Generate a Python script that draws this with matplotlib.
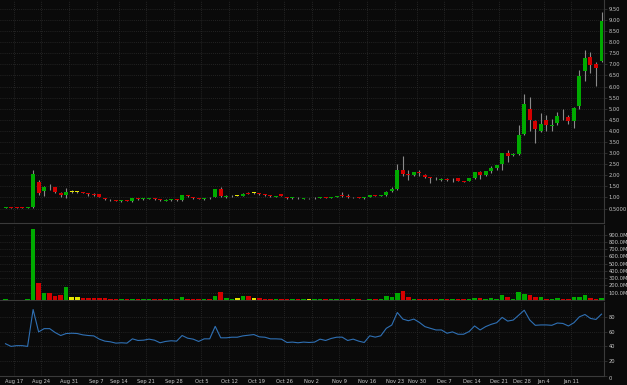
import numpy as np
import pandas as pd
import matplotlib
matplotlib.use("Agg")
import matplotlib.pyplot as plt

# ---------------- data ----------------
holidays = ["2020-09-07", "2020-11-26", "2020-12-25", "2021-01-01", "2021-01-18"]
dates = [d for d in pd.bdate_range("2020-08-13", "2021-01-19") if d.strftime("%Y-%m-%d") not in holidays]

opens = [0.54, 0.55, 0.545, 0.545, 0.54, 0.55, 1.70, 1.29, 1.48, 1.45,
         1.22, 1.09, 1.24, 1.24, 1.23, 1.19, 1.16, 1.14, 0.96, 0.90,
         0.88, 0.85, 0.87, 0.83, 0.95, 0.92, 0.94, 0.95, 0.91, 0.86,
         0.88, 0.90, 0.89, 1.09, 1.00, 0.96, 0.94, 0.98, 1.03, 1.37,
         1.04, 1.05, 1.08, 1.08, 1.18, 1.19, 1.19, 1.14, 1.10, 1.04,
         1.15, 1.01, 0.97, 0.99, 0.95, 0.96, 0.96, 0.98, 1.00, 0.99,
         1.02, 1.09, 1.05, 1.00, 1.02, 0.97, 1.02, 1.09, 1.07, 1.10,
         1.29, 1.36, 2.23, 2.06, 2.00, 2.14, 2.02, 1.90, 1.88, 1.79,
         1.83, 1.77, 1.87, 1.74, 1.76, 1.88, 2.13, 2.00, 2.18, 2.33,
         2.50, 3.00, 2.90, 2.95, 3.86, 5.00, 4.46, 4.01, 4.49, 4.24,
         4.34, 4.63, 4.62, 4.45, 5.13, 6.68, 7.33, 7.01, 7.13]
highs = [0.57, 0.56, 0.55, 0.57, 0.56, 2.23, 1.78, 1.50, 1.60, 1.46,
         1.24, 1.42, 1.33, 1.28, 1.25, 1.22, 1.20, 1.15, 0.99, 0.92,
         0.90, 0.90, 0.89, 0.99, 0.98, 0.96, 0.97, 0.97, 0.93, 0.92,
         0.92, 0.91, 1.13, 1.10, 1.02, 0.97, 0.98, 1.00, 1.40, 1.47,
         1.10, 1.09, 1.12, 1.22, 1.26, 1.24, 1.21, 1.16, 1.12, 1.08,
         1.16, 1.03, 1.00, 1.01, 0.99, 0.98, 1.00, 1.03, 1.02, 1.04,
         1.08, 1.25, 1.15, 1.04, 1.04, 1.01, 1.12, 1.12, 1.12, 1.28,
         1.47, 2.53, 2.86, 2.25, 2.17, 2.25, 2.04, 1.94, 1.94, 1.89,
         1.86, 1.86, 1.89, 1.76, 1.90, 2.17, 2.20, 2.19, 2.40, 2.48,
         3.02, 3.12, 3.00, 4.27, 5.66, 5.52, 4.50, 4.80, 4.70, 4.55,
         4.85, 4.97, 4.73, 5.08, 6.76, 7.63, 7.55, 7.10, 9.35]
lows = [0.53, 0.54, 0.53, 0.53, 0.53, 0.54, 1.12, 1.07, 1.35, 1.20,
        1.00, 0.99, 1.20, 1.20, 1.18, 1.08, 1.08, 1.00, 0.90, 0.85,
        0.84, 0.80, 0.83, 0.80, 0.90, 0.88, 0.91, 0.90, 0.84, 0.82,
        0.85, 0.86, 0.86, 1.02, 0.95, 0.91, 0.90, 0.94, 1.00, 1.02,
        0.98, 1.02, 1.05, 1.06, 1.14, 1.16, 1.13, 1.08, 1.04, 1.02,
        1.05, 0.95, 0.94, 0.94, 0.93, 0.94, 0.95, 0.96, 0.97, 0.97,
        1.00, 1.03, 0.97, 0.97, 0.98, 0.95, 1.00, 1.05, 1.05, 1.08,
        1.26, 1.34, 1.95, 1.80, 1.96, 1.98, 1.90, 1.65, 1.80, 1.72,
        1.72, 1.70, 1.73, 1.68, 1.73, 1.85, 1.85, 1.97, 2.12, 2.25,
        2.25, 2.62, 2.85, 2.90, 3.80, 4.00, 3.47, 3.95, 4.00, 3.99,
        4.25, 4.47, 4.30, 4.15, 5.00, 6.23, 6.63, 6.03, 7.10]
closes = [0.55, 0.54, 0.54, 0.54, 0.55, 2.05, 1.20, 1.47, 1.45, 1.24,
          1.09, 1.24, 1.24, 1.24, 1.21, 1.16, 1.13, 1.00, 0.93, 0.87,
          0.86, 0.86, 0.86, 0.96, 0.93, 0.94, 0.96, 0.93, 0.87, 0.87,
          0.90, 0.88, 1.09, 1.05, 0.97, 0.93, 0.96, 0.96, 1.37, 1.05,
          1.05, 1.07, 1.08, 1.15, 1.16, 1.19, 1.16, 1.11, 1.07, 1.06,
          1.07, 0.98, 0.99, 0.96, 0.97, 0.96, 0.98, 1.00, 0.99, 1.02,
          1.05, 1.06, 1.02, 1.02, 0.99, 0.99, 1.10, 1.07, 1.09, 1.25,
          1.37, 2.22, 2.05, 2.03, 2.14, 2.10, 1.94, 1.87, 1.86, 1.82,
          1.78, 1.79, 1.75, 1.71, 1.88, 2.13, 2.02, 2.18, 2.35, 2.47,
          3.02, 2.88, 2.97, 3.80, 5.20, 4.49, 4.10, 4.31, 4.27, 4.27,
          4.67, 4.61, 4.44, 5.02, 6.49, 7.28, 6.97, 6.83, 8.94]
# flat (unchanged) sessions shown in yellow
flat_days = [12, 13, 42, 45, 55]

volume_m = [8, 6, 5, 6, 7, 980, 237, 91, 99, 54,
            68, 174, 44, 40, 26, 33, 30, 30, 25, 20,
            12, 15, 10, 14, 12, 9, 12, 8, 9, 14,
            8, 7, 35, 20, 10, 7, 10, 8, 60, 105,
            30, 15, 26, 54, 54, 30, 24, 15, 12, 10,
            14, 10, 9, 8, 10, 7, 10, 15, 12, 10,
            10, 14, 12, 8, 9, 6, 10, 8, 12, 54,
            44, 99, 118, 35, 20, 20, 20, 20, 15, 12,
            12, 10, 12, 8, 20, 25, 25, 20, 25, 20,
            63, 40, 20, 109, 81, 63, 35, 40, 20, 20,
            25, 20, 20, 40, 44, 63, 25, 20, 25]

rsi = [43.6, 40.0, 41.0, 41.0, 40.0, 89.8, 59.6, 64.0, 64.0, 58.7,
       54.7, 57.4, 57.8, 57.4, 55.6, 54.7, 54.2, 49.8, 47.1, 46.2,
       44.4, 44.9, 44.4, 50.2, 48.0, 48.4, 49.8, 48.4, 44.9, 46.7,
       47.6, 47.1, 54.7, 51.1, 49.8, 46.7, 50.2, 50.2, 67.1, 51.6,
       51.6, 52.4, 52.4, 54.2, 55.1, 56.0, 52.9, 52.4, 50.2, 50.2,
       49.8, 45.3, 45.8, 44.9, 45.8, 45.3, 45.8, 49.8, 48.0, 50.7,
       52.4, 52.5, 48.0, 49.8, 47.1, 45.3, 54.3, 52.5, 54.3, 64.4,
       68.9, 85.8, 76.9, 74.7, 76.9, 72.4, 66.7, 64.4, 62.2, 62.2,
       57.8, 59.6, 56.4, 56.4, 60.0, 67.6, 62.2, 66.7, 69.8, 72.0,
       79.2, 74.2, 75.6, 82.2, 88.9, 75.6, 68.5, 69.0, 69.0, 68.5,
       71.6, 71.0, 67.6, 72.0, 80.0, 83.1, 77.8, 76.4, 83.6]

price_ticks = [0.5, 1.0, 1.5, 2.0, 2.5, 3.0, 3.5, 4.0, 4.5, 5.0, 5.5, 6.0, 6.5, 7.0, 7.5, 8.0, 8.5, 9.0, 9.5]
price_labels = ["0.5000"] + ["%.2f" % v for v in price_ticks[1:]]
vol_ticks = [100, 200, 300, 400, 500, 600, 700, 800, 900]
vol_labels = ["%.1fM" % v for v in vol_ticks]
rsi_ticks = [0, 20, 40, 60, 80]
rsi_labels = ["0", "20", "40", "60", "80"]
week_labels = ["Aug 17", "Aug 24", "Aug 31", "Sep 7", "Sep 14", "Sep 21", "Sep 28",
               "Oct 5", "Oct 12", "Oct 19", "Oct 26", "Nov 2", "Nov 9", "Nov 16",
               "Nov 23", "Nov 30", "Dec 7", "Dec 14", "Dec 21", "Dec 28", "Jan 4", "Jan 11"]
week_mondays = pd.date_range("2020-08-17", "2021-01-11", freq="7D")

# ---------------- style ----------------
BG = "#0a0a0a"
GRID = "#2c2c2c"
SPINE = "#3a3a3a"
TXT = "#c8c8c8"
GREEN = "#00aa00"
RED = "#d40000"
YELLOW = "#e6e600"
WICK = "#8a8a8a"
FS = 3.7

n = len(closes)
x = np.arange(n)
opens_a = np.array(opens); closes_a = np.array(closes)
colors = []
for i in range(n):
    if i in flat_days:
        colors.append(YELLOW)
    elif closes_a[i] >= opens_a[i]:
        colors.append(GREEN)
    else:
        colors.append(RED)

date_index = pd.DatetimeIndex(dates)
tick_pos = [int(np.searchsorted(date_index, m)) - 0.5 for m in week_mondays]

fig = plt.figure(figsize=(6.27, 3.85), dpi=100, facecolor=BG)
ax1 = fig.add_axes([0, 0.4208, 0.9633, 0.5792])
ax2 = fig.add_axes([0, 0.2208, 0.9633, 0.1948])
ax3 = fig.add_axes([0, 0.0234, 0.9633, 0.1922])

for ax in (ax1, ax2, ax3):
    ax.set_facecolor(BG)
    ax.set_xlim(-1.0, 108.45)
    ax.yaxis.tick_right()
    ax.tick_params(axis="y", colors=TXT, labelsize=FS, length=2, width=0.5, pad=1.2, color=SPINE)
    ax.tick_params(axis="x", colors=TXT, labelsize=FS, length=0, pad=2.5)
    for s in ("left", "top"):
        ax.spines[s].set_visible(False)
    for s in ("right", "bottom"):
        ax.spines[s].set_color(SPINE)
        ax.spines[s].set_linewidth(0.8)
    ax.set_xticks(tick_pos)
    ax.grid(True, color=GRID, linestyle=(0, (1, 1.5)), linewidth=0.6)
    ax.set_axisbelow(True)

# price panel
ax1.vlines(x, lows, highs, color=WICK, linewidth=0.8, zorder=2)
body_bottom = np.minimum(opens_a, closes_a)
body_h = np.maximum(np.abs(closes_a - opens_a), 0.035)
ax1.bar(x, body_h, bottom=body_bottom, width=0.72, color=colors, linewidth=0, zorder=3)
ax1.set_ylim(-0.15, 9.9)
ax1.set_yticks(price_ticks)
ax1.set_yticklabels(price_labels)
ax1.set_xticklabels([])

# volume panel
ax2.bar(x, volume_m, width=0.82, color=colors, linewidth=0, zorder=3)
ax2.set_ylim(0, 1034)
ax2.set_yticks(vol_ticks)
ax2.set_yticklabels(vol_labels)
ax2.set_xticklabels([])

# indicator panel
ax3.plot(x, rsi, color="#2f70b4", linewidth=0.8, zorder=3)
ax3.set_ylim(0, 100)
ax3.set_yticks(rsi_ticks)
ax3.set_yticklabels(rsi_labels)
ax3.get_yticklabels()[0].set_va("top")
ax3.set_xticklabels(week_labels)

fig.savefig("out.png", dpi=100, facecolor=BG)
